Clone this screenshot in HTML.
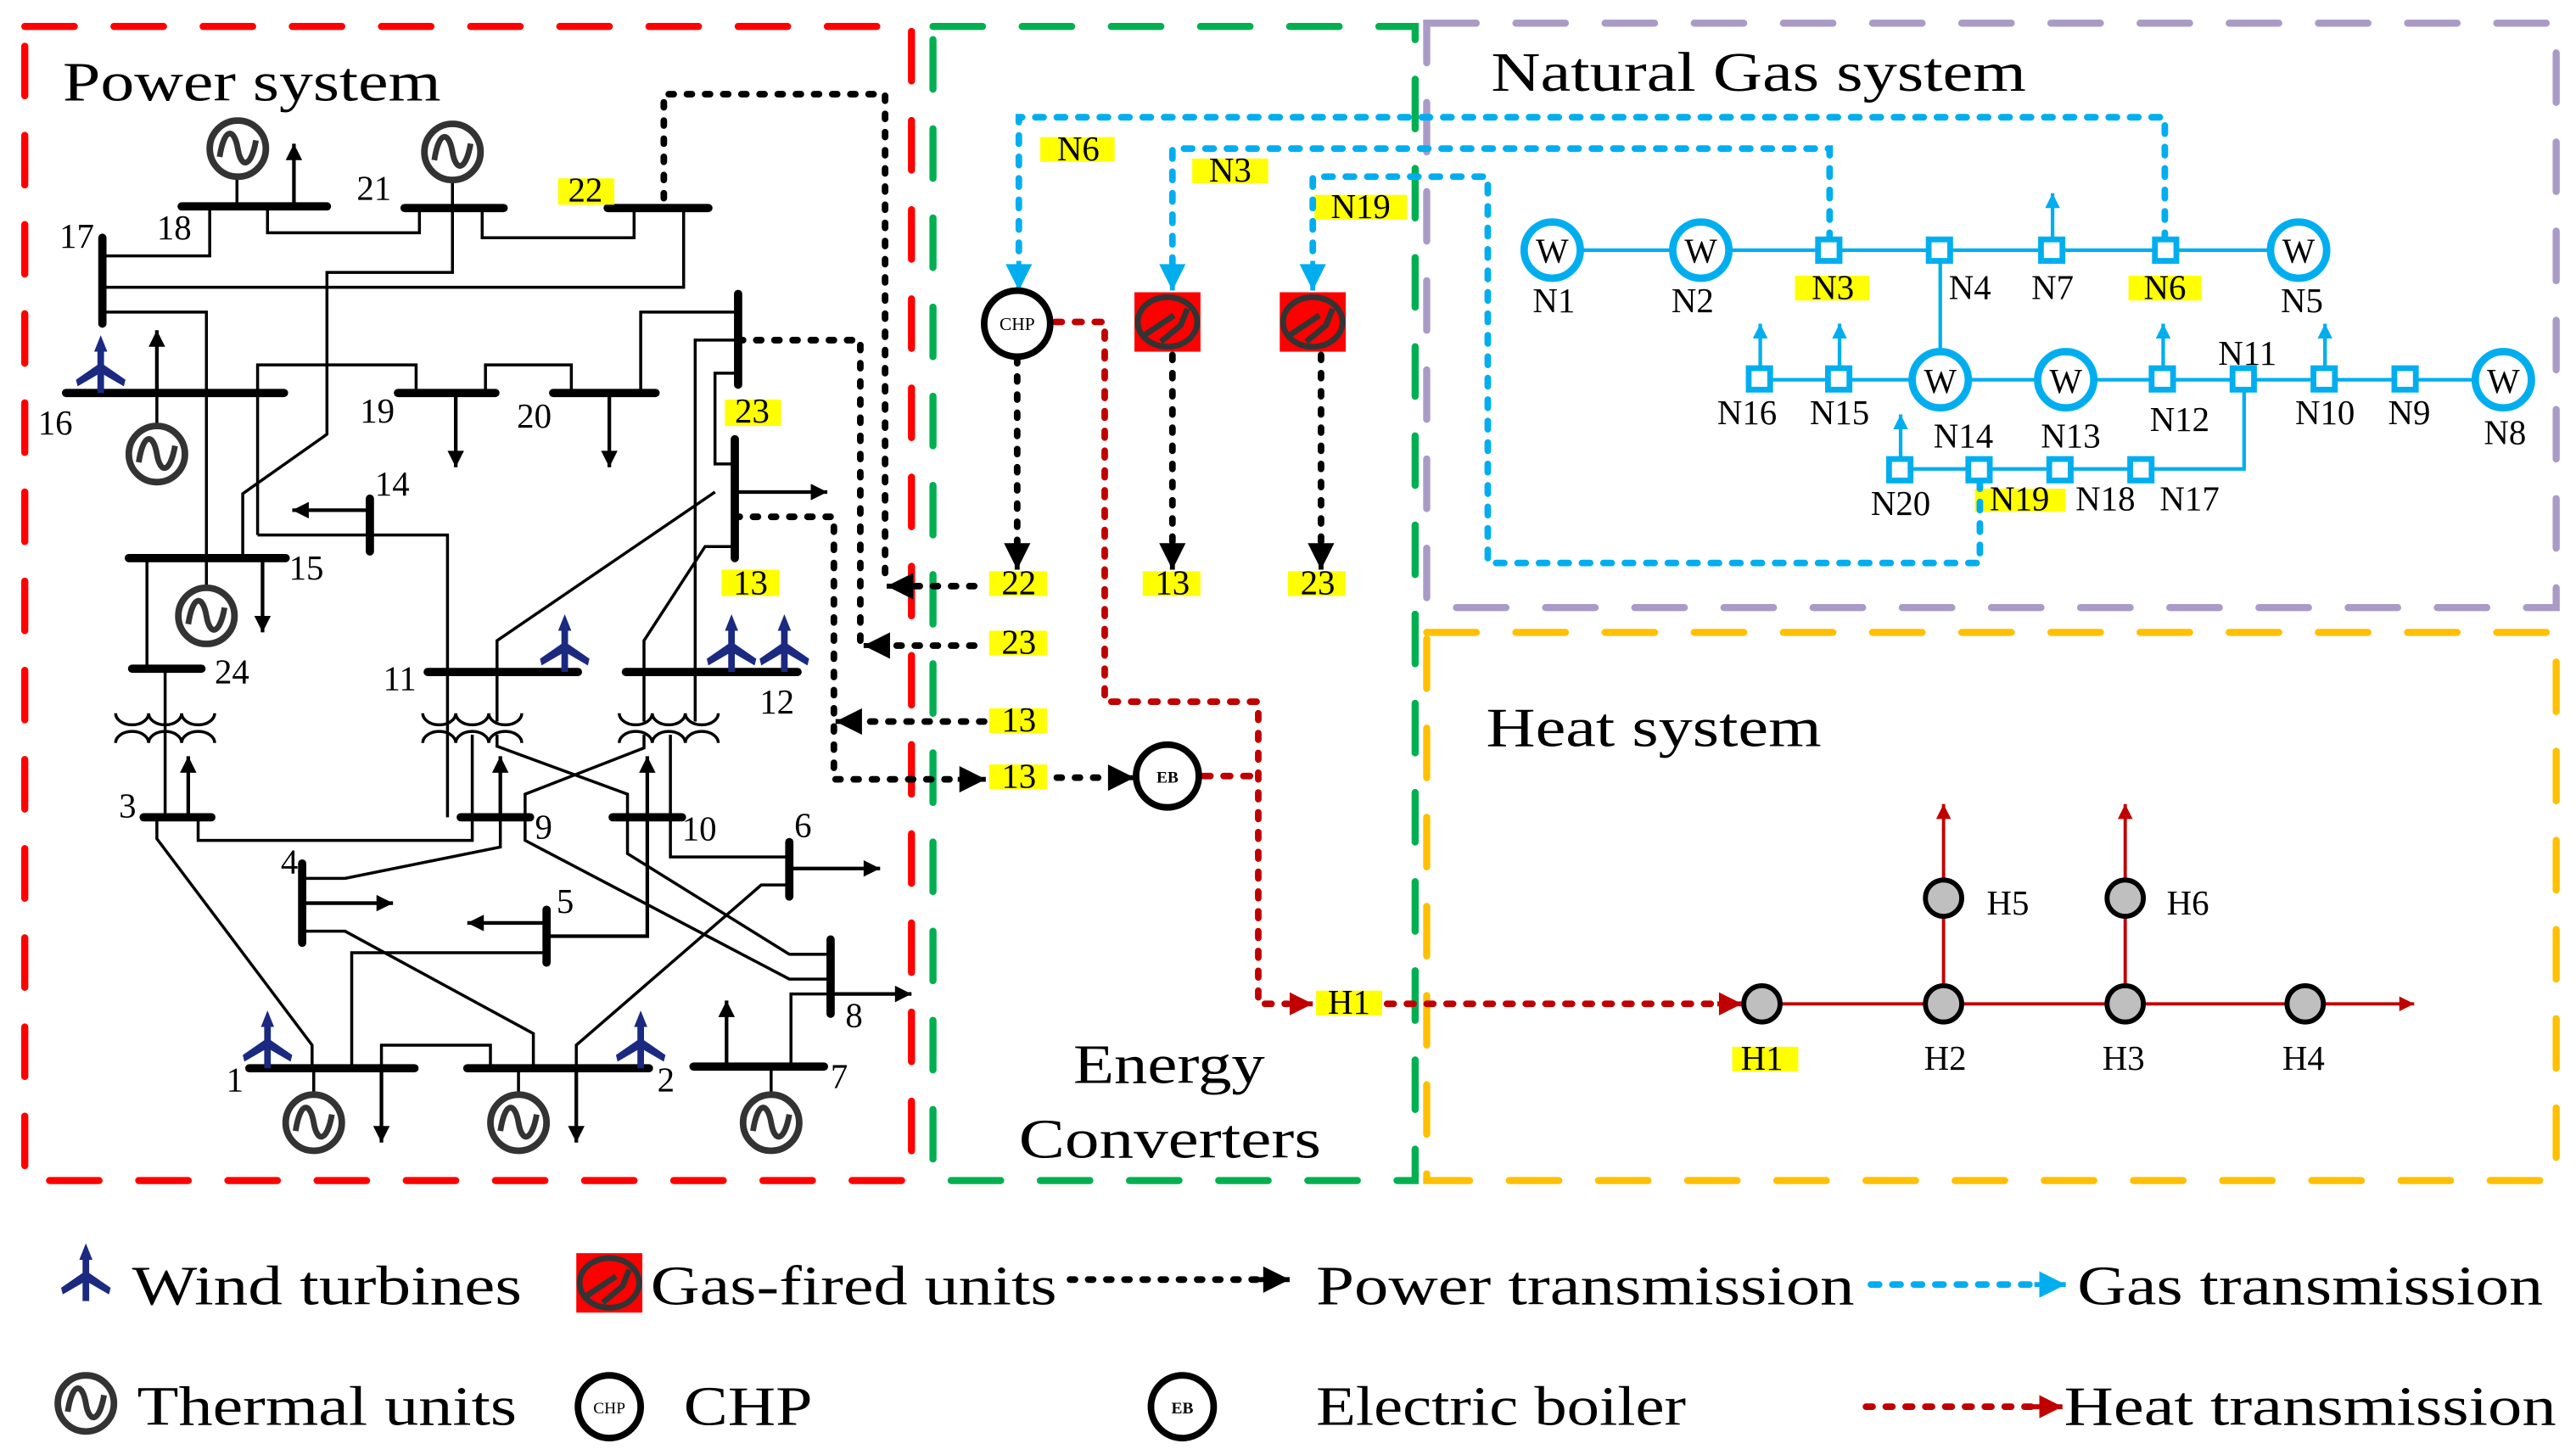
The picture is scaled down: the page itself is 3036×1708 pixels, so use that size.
<!DOCTYPE html>
<html><head><meta charset="utf-8"><style>
html,body{margin:0;padding:0;background:#fff}
svg{display:block}
text{font-family:"Liberation Serif",serif;fill:#000}
</style></head><body>
<svg width="3036" height="1708" viewBox="0 0 1560 877.6" xmlns="http://www.w3.org/2000/svg">
<defs>
<marker id="ak" viewBox="0 0 10 10" refX="10" refY="5" markerWidth="14" markerHeight="10" markerUnits="userSpaceOnUse" orient="auto"><path d="M0,0L10,5L0,10Z" fill="#000"/></marker>
<marker id="akb" viewBox="0 0 10 10" refX="10" refY="5" markerWidth="20" markerHeight="16" markerUnits="userSpaceOnUse" orient="auto"><path d="M0,0L10,5L0,10Z" fill="#000"/></marker>
<marker id="ac" viewBox="0 0 10 10" refX="10" refY="5" markerWidth="20" markerHeight="16" markerUnits="userSpaceOnUse" orient="auto"><path d="M0,0L10,5L0,10Z" fill="#00aeef"/></marker>
<marker id="acs" viewBox="0 0 10 10" refX="10" refY="5" markerWidth="14" markerHeight="9" markerUnits="userSpaceOnUse" orient="auto"><path d="M0,0L10,5L0,10Z" fill="#00aeef"/></marker>
<marker id="ar" viewBox="0 0 10 10" refX="10" refY="5" markerWidth="20" markerHeight="14" markerUnits="userSpaceOnUse" orient="auto"><path d="M0,0L10,5L0,10Z" fill="#c00000"/></marker>
<marker id="ars" viewBox="0 0 10 10" refX="10" refY="5" markerWidth="16" markerHeight="9" markerUnits="userSpaceOnUse" orient="auto"><path d="M0,0L10,5L0,10Z" fill="#c00000"/></marker>
<g id="gen"><circle r="17" fill="#fff" stroke="#333" stroke-width="4"/><path d="M-11,5 C-8,-14 -2,-12 0,0 S8,12 11,-5" fill="none" stroke="#333" stroke-width="3.5"/></g>
<path id="wind" fill="#1b2a80" d="M0,-35 L-4,-25 L-2,-25 L-2,-17 L-15,-8 L-14,-4 L-2,-11 L-2,0 L2,0 L2,-11 L14,-4 L15,-8 L2,-17 L2,-25 L4,-25 Z"/>
<g id="tr" fill="none" stroke="#000" stroke-width="1.8"><path d="M-30,432 A10,7 0 0 0 -10,432 M-10,432 A10,7 0 0 0 10,432 M10,432 A10,7 0 0 0 30,432"/><path d="M-30,450 A10,7 0 0 1 -10,450 M-10,450 A10,7 0 0 1 10,450 M10,450 A10,7 0 0 1 30,450"/></g>
<g id="gas"><rect x="-20" y="-18" width="40" height="36" fill="#f00"/><ellipse rx="18" ry="15" fill="none" stroke="#333" stroke-width="3.5"/><path d="M-14,8 L-2,0 L4,-4 M-4,12 L8,2 L12,-8" stroke="#333" stroke-width="3.5" fill="none"/></g>
</defs>

<g fill="none" stroke-width="4.3" stroke-linecap="round" stroke-dasharray="30 24">
<rect x="15" y="16" width="537" height="699" stroke="#f00"/>
<rect x="565" y="16" width="292" height="699" stroke="#00b050"/>
<rect x="864" y="14" width="684" height="354" stroke="#a99bc6"/>
<rect x="864" y="383" width="684" height="332" stroke="#ffc000"/>
</g>

<g lengthAdjust="spacingAndGlyphs">
<text x="38" y="61" font-size="34" textLength="229" lengthAdjust="spacingAndGlyphs">Power system</text>
<text x="903" y="55" font-size="34" textLength="324" lengthAdjust="spacingAndGlyphs">Natural Gas system</text>
<text x="900" y="452" font-size="34" textLength="203" lengthAdjust="spacingAndGlyphs">Heat system</text>
<text x="650" y="656" font-size="34" textLength="116" lengthAdjust="spacingAndGlyphs">Energy</text>
<text x="617" y="701" font-size="34" textLength="183" lengthAdjust="spacingAndGlyphs">Converters</text>
</g>

<g fill="none" stroke="#000" stroke-width="1.8">
<path d="M127,125 V155 H62"/>
<path d="M162,125 V141 H254 V126"/>
<path d="M292,126 V144 H384 V126"/>
<path d="M414,126 V174 H62"/>
<path d="M274,108 V165 H198 V263 L147,299 V338"/>
<path d="M62,189 H125 V356"/>
<path d="M156,324 V221 H252 V238"/>
<path d="M156,324 H271 V495"/>
<path d="M294,238 V221 H346 V238"/>
<path d="M388,238 V189 H447"/>
<path d="M447,226 H433 V281 H445"/>
<path d="M447,206 H421 V437"/>
<path d="M433,298 L301,388 V437"/>
<path d="M445,331 H427 L390,388 V437"/>
<path d="M95,238 V258"/>
<path d="M143.5,107 V125"/>
<path d="M89,338 V405"/>
<path d="M100,405 V495"/>
<path d="M120,495 V509 H286 V445"/>
<path d="M95,495 V508 L189,633 V647"/>
<path d="M301,445 V452 L380,481 V517 L478,578 H503"/>
<path d="M303,495 V513 L209,532 H183"/>
<path d="M390,445 V453 L318,481 V509 L478,593 H503"/>
<path d="M406,445 V519 H478"/>
<path d="M478,536 H461 L349,633 V647"/>
<path d="M503,602 H479 V646"/>
<path d="M183,564 H209 L323,626 V647"/>
<path d="M331,577 H213 V647"/>
<path d="M231,647 V633 H297 V647"/>
<path d="M190,647 V663 M314,647 V663 M467,646 V663"/>
</g>
<use href="#tr" x="100"/><use href="#tr" x="286"/><use href="#tr" x="405"/>
<g fill="none" stroke="#000" stroke-width="2.2" marker-end="url(#ak)">
<path d="M178,124 V87"/>
<path d="M95,238 V200"/>
<path d="M276,238 V283"/>
<path d="M369,238 V283"/>
<path d="M445,298 H501"/>
<path d="M224,309 H177"/>
<path d="M159,338 V383"/>
<path d="M114,495 V458"/>
<path d="M303,495 V458"/>
<path d="M331,567 H392 V458"/>
<path d="M478,526 H533"/>
<path d="M503,602 H552"/>
<path d="M183,547 H238"/>
<path d="M331,559 H283"/>
<path d="M231,647 V692"/>
<path d="M349,647 V692"/>
<path d="M440,646 V606"/>
</g>
<g stroke="#000" stroke-width="5" stroke-linecap="round">
<path d="M110,125 H198"/><path d="M245,126 H305"/><path d="M368,126 H429"/>
<path d="M62,144 V196"/><path d="M40,238 H172"/><path d="M241,238 H300"/><path d="M335,238 H397"/>
<path d="M447,178 V233"/><path d="M445,266 V338"/><path d="M224,302 V334"/>
<path d="M78,338 H173"/><path d="M80,405 H122"/><path d="M259,407 H350"/><path d="M379,407 H483"/>
<path d="M87,495 H128"/><path d="M279,495 H321"/><path d="M371,495 H413"/>
<path d="M478,510 V543"/><path d="M503,569 V614"/><path d="M183,523 V571"/><path d="M331,551 V583"/>
<path d="M151,647 H251"/><path d="M283,647 H393"/><path d="M420,646 H499"/>
</g>
<use href="#gen" x="144" y="90"/><use href="#gen" x="274" y="92"/><use href="#gen" x="95" y="275"/>
<use href="#gen" x="125" y="373"/><use href="#gen" x="190" y="680"/><use href="#gen" x="314" y="680"/><use href="#gen" x="467" y="680"/>
<use href="#wind" x="61" y="238"/><use href="#wind" x="342" y="407"/><use href="#wind" x="443" y="407"/><use href="#wind" x="475" y="407"/>
<use href="#wind" x="162" y="647"/><use href="#wind" x="388" y="647"/>

<g fill="#ff0">
<rect x="338" y="108" width="34" height="16"/><rect x="439" y="242" width="34" height="16"/><rect x="437" y="345" width="35" height="16"/>
<rect x="630" y="83" width="45" height="15"/><rect x="722" y="96" width="46" height="15"/><rect x="796" y="118" width="56" height="15"/>
<rect x="599" y="346" width="35" height="15"/><rect x="692" y="346" width="35" height="15"/><rect x="780" y="346" width="35" height="15"/>
<rect x="599" y="382" width="35" height="15"/><rect x="599" y="429" width="35" height="15"/><rect x="599" y="463" width="35" height="15"/>
<rect x="1087" y="167" width="45" height="15"/><rect x="1289" y="167" width="44" height="15"/><rect x="1196" y="296" width="55" height="14"/>
<rect x="797" y="600" width="40" height="15"/><rect x="1049" y="634" width="40" height="15"/>
</g>
<g font-size="21">
<text x="36" y="150">17</text><text x="95" y="145">18</text><text x="216" y="121">21</text><text x="344" y="122">22</text>
<text x="23" y="263">16</text><text x="218" y="256">19</text><text x="313" y="259">20</text><text x="445" y="256">23</text>
<text x="227" y="300">14</text><text x="175" y="351">15</text><text x="444" y="360">13</text><text x="130" y="414">24</text>
<text x="232" y="418">11</text><text x="460" y="432">12</text><text x="72" y="495">3</text><text x="324" y="508">9</text>
<text x="413" y="509">10</text><text x="481" y="507">6</text><text x="512" y="622">8</text><text x="170" y="529">4</text>
<text x="337" y="553">5</text><text x="137" y="661">1</text><text x="398" y="661">2</text><text x="503" y="659">7</text>
</g>
<g font-size="21" text-anchor="middle">
<text x="653" y="97">N6</text><text x="745" y="110">N3</text><text x="824" y="132">N19</text>
<text x="617" y="360">22</text><text x="710" y="360">13</text><text x="798" y="360">23</text>
<text x="617" y="396">23</text><text x="617" y="443">13</text><text x="617" y="477">13</text>
<text x="817" y="614">H1</text>
</g>

<g fill="none" stroke="#000" stroke-width="4" stroke-linecap="round" stroke-dasharray="3 8">
<path d="M402,120 V57 H536 V355"/>
<path d="M447,206 H521 V391"/>
<path d="M445,313 H505 V472 H580"/>
<path d="M616,217 V330"/><path d="M710,215 V330"/><path d="M800,215 V330"/>
<path d="M590,355 H548"/><path d="M590,391 H534"/><path d="M596,437 H518"/>
<path d="M640,471 H672"/>
</g>
<g stroke="#000" stroke-width="3" fill="none">
<path d="M548,355 H537" marker-end="url(#akb)"/><path d="M534,391 H523" marker-end="url(#akb)"/>
<path d="M518,437 H506" marker-end="url(#akb)"/><path d="M580,472 H597" marker-end="url(#akb)"/>
<path d="M672,471 H687" marker-end="url(#akb)"/>
<path d="M616,328 V345" marker-end="url(#akb)"/><path d="M710,328 V345" marker-end="url(#akb)"/><path d="M800,328 V345" marker-end="url(#akb)"/>
</g>

<g fill="none" stroke="#00aeef" stroke-width="4" stroke-linecap="round" stroke-dasharray="5 8">
<path d="M1311,146 V71 H617 V160"/>
<path d="M1108,146 V90 H710 V160"/>
<path d="M1199,291 V341 H901 V107 H795 V160"/>
</g>
<g stroke="#00aeef" stroke-width="3" fill="none">
<path d="M617,158 V176" marker-end="url(#ac)"/><path d="M710,158 V176" marker-end="url(#ac)"/><path d="M795,158 V176" marker-end="url(#ac)"/>
</g>
<g fill="none" stroke="#c00000" stroke-width="4" stroke-linecap="round" stroke-dasharray="4 8">
<path d="M639,195 H669 V425 H762 V608 H780"/>
<path d="M729,470 H762"/>
<path d="M840,608 H1040"/>
</g>
<g stroke="#c00000" stroke-width="3" fill="none">
<path d="M780,608 H795" marker-end="url(#ar)"/><path d="M1040,608 H1055" marker-end="url(#ar)"/>
</g>

<circle cx="616" cy="196" r="20" fill="#fff" stroke="#000" stroke-width="4"/>
<text x="616" y="200" font-size="11" text-anchor="middle">CHP</text>
<use href="#gas" x="707" y="195"/><use href="#gas" x="795" y="195"/>
<circle cx="707" cy="470" r="19" fill="#fff" stroke="#000" stroke-width="4"/>
<text x="707" y="474" font-size="10" text-anchor="middle" font-weight="bold">EB</text>

<g fill="none" stroke="#00aeef" stroke-width="2.2">
<path d="M940,151.5 H1392"/><path d="M1175,151.5 V230"/><path d="M1066,230 H1516"/>
<path d="M1151,284 H1359 V230"/>
</g>
<g stroke="#00aeef" stroke-width="2.2" fill="none" marker-end="url(#acs)">
<path d="M1243,151 V117"/><path d="M1066,230 V196"/><path d="M1114,230 V196"/><path d="M1310,230 V196"/><path d="M1408,230 V196"/><path d="M1151,284 V251"/>
</g>
<g fill="#fff" stroke="#00aeef" stroke-width="3.5">
<rect x="1101" y="145" width="13" height="13"/><rect x="1168" y="145" width="13" height="13"/><rect x="1236" y="145" width="13" height="13"/><rect x="1305" y="145" width="13" height="13"/>
<rect x="1059" y="223" width="13" height="13"/><rect x="1107" y="223" width="13" height="13"/><rect x="1303" y="223" width="13" height="13"/><rect x="1352" y="223" width="13" height="13"/><rect x="1401" y="223" width="13" height="13"/><rect x="1450" y="223" width="13" height="13"/>
<rect x="1144" y="278" width="13" height="13"/><rect x="1192" y="278" width="13" height="13"/><rect x="1241" y="278" width="13" height="13"/><rect x="1290" y="278" width="13" height="13"/>
</g>
<g fill="#fff" stroke="#00aeef" stroke-width="4.5">
<ellipse cx="940" cy="151.5" rx="17" ry="17"/><ellipse cx="1030" cy="151.5" rx="17" ry="17"/><ellipse cx="1392" cy="151.5" rx="17" ry="17"/>
<ellipse cx="1175" cy="230" rx="17" ry="17"/><ellipse cx="1251" cy="230" rx="17" ry="17"/><ellipse cx="1516" cy="230" rx="17" ry="17"/>
</g>
<g font-size="21" text-anchor="middle">
<text x="940" y="159">W</text><text x="1030" y="159">W</text><text x="1392" y="159">W</text>
<text x="1175" y="238">W</text><text x="1251" y="238">W</text><text x="1516" y="238">W</text>
<text x="941" y="189">N1</text><text x="1025" y="189">N2</text><text x="1110" y="181">N3</text><text x="1193" y="181">N4</text>
<text x="1243" y="181">N7</text><text x="1311" y="181">N6</text><text x="1394" y="189">N5</text>
<text x="1058" y="257">N16</text><text x="1114" y="257">N15</text><text x="1189" y="271">N14</text><text x="1254" y="271">N13</text>
<text x="1320" y="261">N12</text><text x="1361" y="221">N11</text><text x="1408" y="257">N10</text><text x="1459" y="257">N9</text>
<text x="1517" y="269">N8</text><text x="1151" y="312">N20</text><text x="1223" y="309">N19</text><text x="1275" y="309">N18</text><text x="1326" y="309">N17</text>
</g>

<g fill="none" stroke="#c00000" stroke-width="2">
<path d="M1067,608 H1462" marker-end="url(#ars)"/>
<path d="M1177,608 V487" marker-end="url(#ars)"/>
<path d="M1287,608 V487" marker-end="url(#ars)"/>
</g>
<g fill="#bfbfbf" stroke="#000" stroke-width="3">
<circle cx="1067" cy="608" r="11"/><circle cx="1177" cy="608" r="11"/><circle cx="1287" cy="608" r="11"/><circle cx="1396" cy="608" r="11"/>
<circle cx="1177" cy="544" r="11"/><circle cx="1287" cy="544" r="11"/>
</g>
<g font-size="21" text-anchor="middle">
<text x="1067" y="648">H1</text><text x="1178" y="648">H2</text><text x="1286" y="648">H3</text><text x="1395" y="648">H4</text>
<text x="1216" y="554">H5</text><text x="1325" y="554">H6</text>
</g>

<use href="#wind" x="52" y="788"/>
<text x="80" y="790" font-size="34" textLength="236" lengthAdjust="spacingAndGlyphs">Wind turbines</text>
<use href="#gas" x="369" y="777"/>
<text x="394" y="790" font-size="34" textLength="246" lengthAdjust="spacingAndGlyphs">Gas-fired units</text>
<path d="M648,775 H762" stroke="#000" stroke-width="4" stroke-linecap="round" stroke-dasharray="3 8" fill="none"/>
<path d="M762,775 H781" stroke="#000" stroke-width="3" marker-end="url(#akb)"/>
<text x="797" y="790" font-size="34" textLength="326" lengthAdjust="spacingAndGlyphs">Power transmission</text>
<path d="M1133,778 H1232" stroke="#00aeef" stroke-width="4" stroke-linecap="round" stroke-dasharray="5 8" fill="none"/>
<path d="M1232,778 H1251" stroke="#00aeef" stroke-width="3" marker-end="url(#ac)"/>
<text x="1258" y="790" font-size="34" textLength="282" lengthAdjust="spacingAndGlyphs">Gas transmission</text>

<use href="#gen" x="52" y="850"/>
<text x="83" y="863" font-size="34" textLength="230" lengthAdjust="spacingAndGlyphs">Thermal units</text>
<circle cx="369" cy="852" r="19" fill="#fff" stroke="#000" stroke-width="4"/>
<text x="369" y="856" font-size="10" text-anchor="middle">CHP</text>
<text x="414" y="863" font-size="34" textLength="78" lengthAdjust="spacingAndGlyphs">CHP</text>
<circle cx="716" cy="852" r="19" fill="#fff" stroke="#000" stroke-width="4"/>
<text x="716" y="856" font-size="10" text-anchor="middle" font-weight="bold">EB</text>
<text x="797" y="863" font-size="34" textLength="224" lengthAdjust="spacingAndGlyphs">Electric boiler</text>
<path d="M1130,852 H1230" stroke="#c00000" stroke-width="4" stroke-linecap="round" stroke-dasharray="4 8" fill="none"/>
<path d="M1230,852 H1249" stroke="#c00000" stroke-width="3" marker-end="url(#ar)"/>
<text x="1250" y="863" font-size="34" textLength="298" lengthAdjust="spacingAndGlyphs">Heat transmission</text>
</svg>
</body></html>
